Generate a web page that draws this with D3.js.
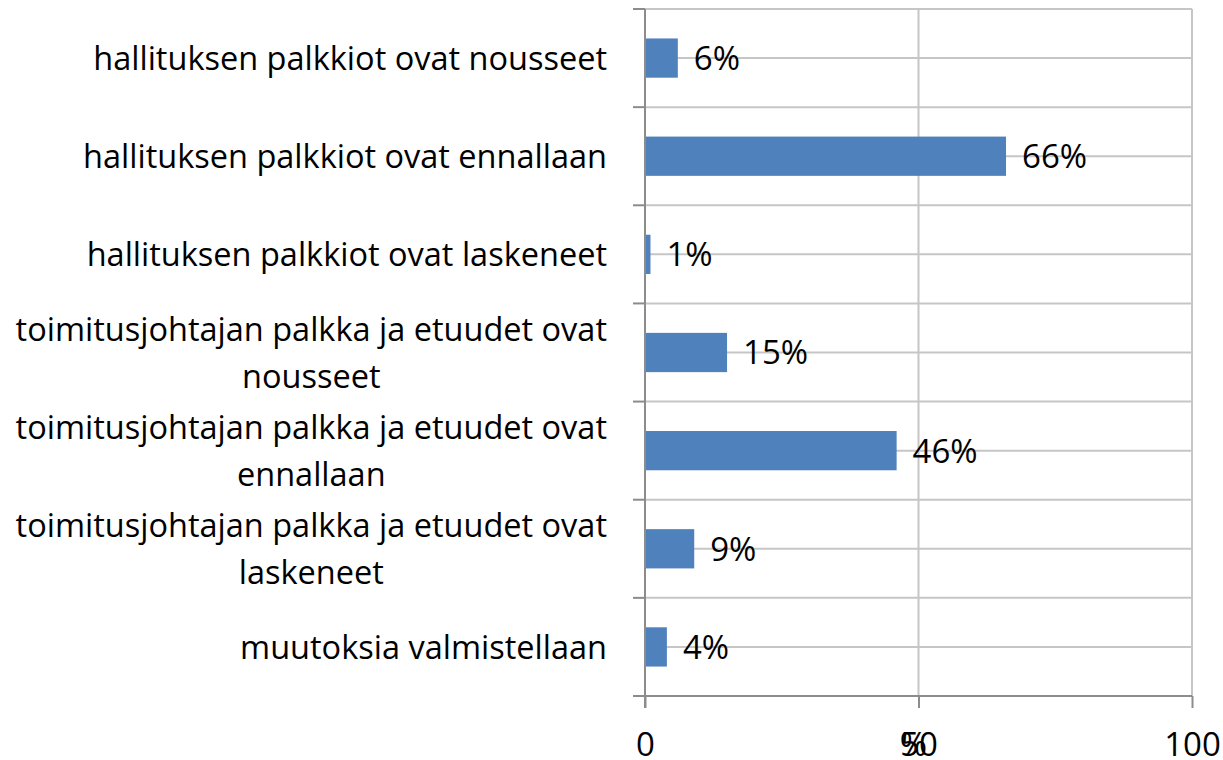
<!DOCTYPE html>
<html>
<head>
<meta charset="utf-8">
<script src="https://cdn.jsdelivr.net/npm/d3@7"></script>
<style>
  body { margin: 0; background: #fff; }
  svg { display: block; }
  text { font-family: "Open Sans", sans-serif; fill: #000; }
</style>
</head>
<body>
<script>
// chart data
var categories = [
  "hallituksen palkkiot ovat nousseet",
  "hallituksen palkkiot ovat ennallaan",
  "hallituksen palkkiot ovat laskeneet",
  "toimitusjohtajan palkka ja etuudet ovat|nousseet",
  "toimitusjohtajan palkka ja etuudet ovat|ennallaan",
  "toimitusjohtajan palkka ja etuudet ovat|laskeneet",
  "muutoksia valmistellaan"
];
var values = [6, 66, 1, 15, 46, 9, 4];
var xTicks = [0, 50, 100];
var axisTitle = "%";

var width = 1223, height = 760;
var margin = { left: 645, right: 31, top: 9, bottom: 64 };
var labelSize = 32.5, numSize = 33;

var svg = d3.select("body").append("svg")
  .attr("width", width).attr("height", height);

var x = d3.scaleLinear().domain([0, 100]).range([margin.left, width - margin.right]);
var y = d3.scaleBand().domain(categories).range([margin.top, height - margin.bottom])
  .paddingInner(0.6).paddingOuter(0.3);
var band = d3.scaleBand().domain(categories).range([margin.top, height - margin.bottom]);

var gridColor = "#c6c6c6", axisColor = "#8c8c8c";

// horizontal gridlines at band edges and band middles
var hLines = [];
categories.forEach(function(c) {
  hLines.push(band(c));
  hLines.push(band(c) + band.bandwidth() / 2);
});
svg.selectAll("line.hgrid").data(hLines).enter().append("line")
  .attr("x1", x(0)).attr("x2", x(100))
  .attr("y1", function(d) { return d; }).attr("y2", function(d) { return d; })
  .attr("stroke", gridColor).attr("stroke-width", 2);

// vertical gridlines
svg.selectAll("line.vgrid").data(xTicks.slice(1)).enter().append("line")
  .attr("x1", function(d) { return x(d); }).attr("x2", function(d) { return x(d); })
  .attr("y1", margin.top).attr("y2", height - margin.bottom)
  .attr("stroke", gridColor).attr("stroke-width", 2);

// bars
svg.selectAll("rect.bar").data(values).enter().append("rect")
  .attr("x", x(0))
  .attr("y", function(d, i) { return y(categories[i]); })
  .attr("width", function(d) { return x(d) - x(0); })
  .attr("height", y.bandwidth())
  .attr("fill", "#4f81bd");

// value labels
svg.selectAll("text.val").data(values).enter().append("text")
  .attr("x", function(d) { return x(d) + 16; })
  .attr("y", function(d, i) { return y(categories[i]) + y.bandwidth() / 2; })
  .attr("dy", "0.36em")
  .attr("font-size", numSize)
  .text(function(d) { return d + "%"; });

// y axis line + ticks at band edges
var bottomY = height - margin.bottom;
svg.append("line")
  .attr("x1", x(0)).attr("x2", x(0))
  .attr("y1", margin.top).attr("y2", bottomY + 12)
  .attr("stroke", axisColor).attr("stroke-width", 2);
var edges = categories.map(function(c) { return band(c); });
svg.selectAll("line.ytick").data(edges).enter().append("line")
  .attr("x1", x(0) - 12).attr("x2", x(0))
  .attr("y1", function(d) { return d; }).attr("y2", function(d) { return d; })
  .attr("stroke", axisColor).attr("stroke-width", 2);

// x axis
var xAxis = svg.append("g").attr("transform", "translate(0," + bottomY + ")")
  .call(d3.axisBottom(x).tickValues(xTicks).tickSize(12).tickPadding(25).tickSizeOuter(0));
xAxis.select(".domain").attr("stroke", axisColor).attr("stroke-width", 2)
  .attr("d", "M" + (x(0) - 12) + ",0H" + x(100));
xAxis.selectAll(".tick line").attr("stroke", axisColor).attr("stroke-width", 2);
xAxis.selectAll(".tick text").attr("font-size", numSize).attr("font-family", "'Open Sans', sans-serif").attr("fill", "#000");

// axis title, overlapping the middle tick label as in the original
svg.append("text")
  .attr("x", x(50) - 5).attr("y", bottomY + 60)
  .attr("text-anchor", "middle").attr("font-size", numSize)
  .text(axisTitle);

// category labels (wrapped lines centered within a right-aligned block)
var labelRight = 607;
categories.forEach(function(c) {
  var lines = c.split("|");
  var cy = band(c) + band.bandwidth() / 2;
  var g = svg.append("g");
  var texts = lines.map(function(l, k) {
    return g.append("text")
      .attr("font-size", labelSize)
      .attr("y", cy + (k - (lines.length - 1) / 2) * 47)
      .attr("dy", "0.36em")
      .attr("text-anchor", "middle")
      .text(l);
  });
  var maxW = d3.max(texts, function(t) { return t.node().getComputedTextLength(); });
  texts.forEach(function(t) { t.attr("x", labelRight - maxW / 2); });
});
</script>
</body>
</html>
